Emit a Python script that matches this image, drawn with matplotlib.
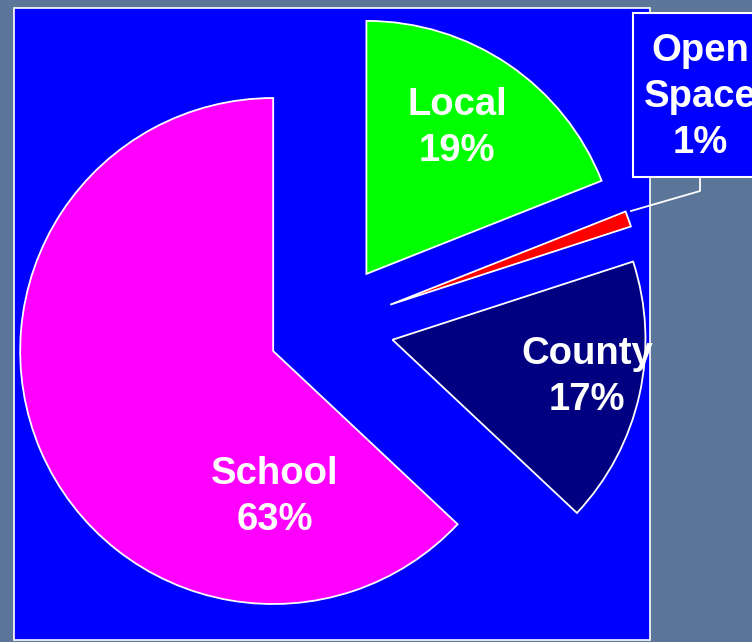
import matplotlib
matplotlib.use("Agg")
import matplotlib.pyplot as plt
from matplotlib.patches import Rectangle

# pie data (order drawn counter-clockwise from the top)
categories = ["School", "County", "Open\nSpace", "Local"]
shares = [63, 17, 1, 19]
colors = ["#ff00ff", "#000080", "#ff0000", "#00ff00"]

W, H = 752, 642
fig = plt.figure(figsize=(W / 100, H / 100), dpi=100)
fig.patch.set_facecolor("#5b7698")
ax = fig.add_axes([0, 0, 1, 1])
ax.set_facecolor("none")

# helper: pixel y (top-down) to axes y
def py(y):
    return H - y

# blue panel
ax.add_patch(Rectangle((14, py(640)), 636, 632, facecolor="#0000ff",
                       edgecolor="white", linewidth=1.2, zorder=0))

# explode is in data units here (pixels)
wedges, _ = ax.pie(shares, colors=colors, startangle=90, counterclock=True,
                   explode=[63] * 4, radius=253, center=(331, py(326)),
                   frame=True,
                   wedgeprops=dict(edgecolor="white", linewidth=1.3))

ax.set_xlim(0, W)
ax.set_ylim(0, H)
ax.set_aspect("equal")
ax.axis("off")

font = dict(color="white", fontsize=27.5, fontweight="bold",
            family="Liberation Sans", ha="center", va="center",
            linespacing=1.37)

labels = [f"{c}\n{s}%" for c, s in zip(categories, shares)]
ax.text(275, py(497), labels[0], **font)
ax.text(587, py(377), labels[1], **font)
ax.text(457, py(128), labels[3], **font)

# callout box for the small slice
ax.add_patch(Rectangle((633, py(177)), 140, 164, facecolor="#0000ff",
                       edgecolor="white", linewidth=1.5, zorder=3))
ax.text(700, py(97), labels[2], zorder=4, **font)
ax.plot([700, 700, 631], [py(177), py(191), py(211)], color="white",
        linewidth=1.3, zorder=2)

fig.savefig("out.png", dpi=100, facecolor=fig.get_facecolor())
